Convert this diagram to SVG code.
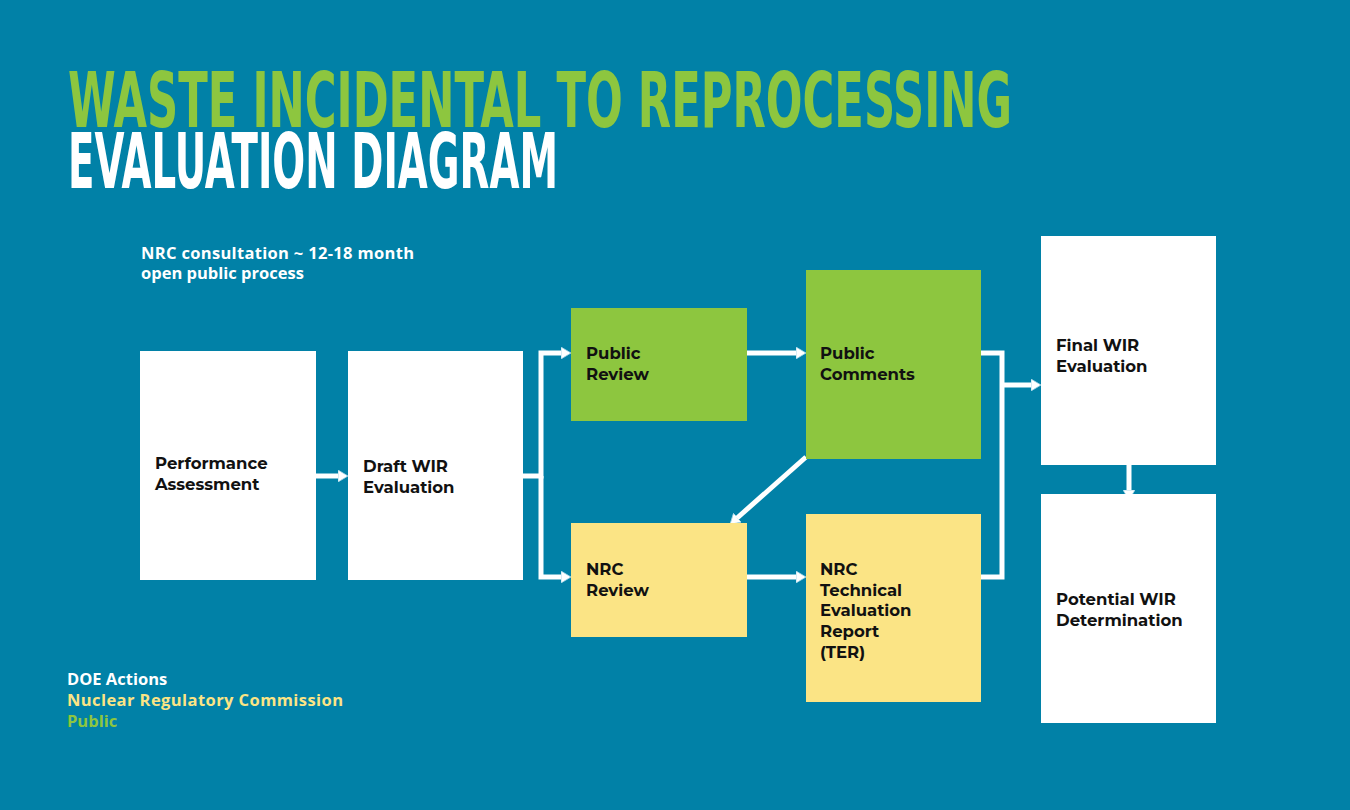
<svg xmlns="http://www.w3.org/2000/svg" width="1350" height="810" viewBox="0 0 1350 810">
<defs>
<style>
.t{font-family:"Montserrat","Open Sans","Liberation Sans",sans-serif;font-weight:bold;font-size:16.5px;fill:#111}
.w{fill:#fff}.g{fill:#8DC63F}.y{fill:#FBE485}
.c{fill:none;stroke:#fff;stroke-width:5}
.h{font-family:"DejaVu Sans Condensed","Liberation Sans Narrow","Liberation Sans",sans-serif;font-weight:bold;font-stretch:condensed}
.l{font-family:"Open Sans","Liberation Sans",sans-serif;font-weight:bold;font-size:16.5px}
</style>
<marker id="a" markerWidth="10" markerHeight="12" refX="2" refY="6" orient="auto" markerUnits="userSpaceOnUse">
<path d="M0,0 L10,6 L0,12 Z" fill="#fff" stroke="#9fd3e6" stroke-width="0.8"/>
</marker>
</defs>
<rect width="1350" height="810" fill="#0181A7"/>
<text class="h" x="68" y="127" font-size="76" fill="#8DC63F" textLength="944" lengthAdjust="spacingAndGlyphs">WASTE INCIDENTAL TO REPROCESSING</text>
<text class="h" x="68" y="188" font-size="76" fill="#fff" textLength="490" lengthAdjust="spacingAndGlyphs">EVALUATION DIAGRAM</text>
<text class="l" x="141" y="259" fill="#fff" textLength="273">NRC consultation  ~ 12-18 month</text>
<text class="l" x="141" y="279" fill="#fff">open public process</text>
<g id="connectors">
<path class="c" d="M316,476 H340" marker-end="url(#a)"/>
<path class="c" d="M523,476 H541 V353 H563" marker-end="url(#a)"/>
<path class="c" d="M541,476 V577 H563" marker-end="url(#a)"/>
<path class="c" d="M747,353 H798" marker-end="url(#a)"/>
<path class="c" d="M747,577 H798" marker-end="url(#a)"/>
<path class="c" d="M806,457 L736,519" marker-end="url(#a)"/>
<path class="c" d="M981,353 H1002 V577 H981"/>
<path class="c" d="M1002,385 H1033" marker-end="url(#a)"/>
<path class="c" d="M1129,465 V492" marker-end="url(#a)"/>
</g>
<g id="pa"><rect class="w" x="140" y="351" width="176" height="229"/><text class="t" x="155" y="469">Performance</text><text class="t" x="155" y="490">Assessment</text></g>
<g id="draft"><rect class="w" x="348" y="351" width="175" height="229"/><text class="t" x="363" y="472">Draft WIR</text><text class="t" x="363" y="493">Evaluation</text></g>
<g id="pr"><rect class="g" x="571" y="308" width="176" height="113"/><text class="t" x="586" y="359">Public</text><text class="t" x="586" y="380">Review</text></g>
<g id="pc"><rect class="g" x="806" y="270" width="175" height="189"/><text class="t" x="820" y="359">Public</text><text class="t" x="820" y="380">Comments</text></g>
<g id="nrcr"><rect class="y" x="571" y="523" width="176" height="114"/><text class="t" x="586" y="575">NRC</text><text class="t" x="586" y="596">Review</text></g>
<g id="ter"><rect class="y" x="806" y="514" width="175" height="188"/><text class="t" x="820" y="575">NRC</text><text class="t" x="820" y="596">Technical</text><text class="t" x="820" y="616">Evaluation</text><text class="t" x="820" y="637">Report</text><text class="t" x="820" y="658">(TER)</text></g>
<g id="final"><rect class="w" x="1041" y="236" width="175" height="229"/><text class="t" x="1056" y="351">Final WIR</text><text class="t" x="1056" y="372">Evaluation</text></g>
<g id="pot"><rect class="w" x="1041" y="494" width="175" height="229"/><text class="t" x="1056" y="605">Potential WIR</text><text class="t" x="1056" y="626">Determination</text></g>
<g id="legend">
<text class="l" x="67" y="685" fill="#fff">DOE Actions</text>
<text class="l" x="67" y="706" fill="#FBE485" textLength="276">Nuclear Regulatory Commission</text>
<text class="l" x="67" y="727" fill="#8DC63F">Public</text>
</g>
</svg>
